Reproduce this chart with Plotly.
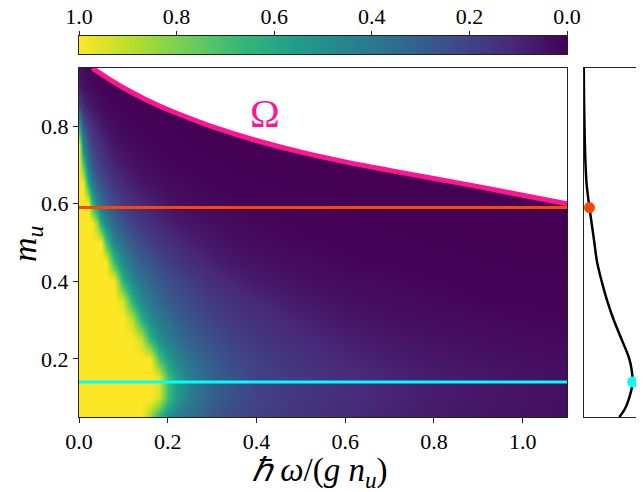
import numpy as np
import plotly.graph_objects as go

# ---------------- data ----------------
# frequency grid (columns) and m_u grid (rows) of the colour map
freq = [0, 0.01, 0.02, 0.03, 0.04, 0.05, 0.06, 0.08, 0.10, 0.12, 0.14, 0.16, 0.18,
        0.20, 0.22, 0.25, 0.30, 0.35, 0.40, 0.50, 0.60, 0.70, 0.80, 0.90, 1.00, 1.10]
m_rows = [0.05, 0.10, 0.15, 0.20, 0.25, 0.30, 0.35, 0.40, 0.45, 0.50,
          0.55, 0.60, 0.65, 0.70, 0.75, 0.80, 0.85, 0.90, 0.95]

z_vals = [
    [1.0]*11 + [0.85, 0.64, 0.50, 0.43, 0.36, 0.27, 0.22, 0.19, 0.15, 0.12, 0.095, 0.07, 0.058, 0.046, 0.038],
    [1.0]*12 + [0.93, 0.68, 0.53, 0.42, 0.30, 0.245, 0.20, 0.158, 0.128, 0.10, 0.076, 0.061, 0.049, 0.039],
    [1.0]*12 + [0.97, 0.70, 0.55, 0.43, 0.31, 0.25, 0.20, 0.16, 0.13, 0.10, 0.077, 0.062, 0.05, 0.04],
    [1.0]*12 + [0.71, 0.55, 0.46, 0.37, 0.28, 0.22, 0.19, 0.14, 0.11, 0.08, 0.061, 0.047, 0.037, 0.032],
    [1.0]*10 + [0.92, 0.66, 0.50, 0.43, 0.37, 0.30, 0.24, 0.19, 0.16, 0.12, 0.084, 0.06, 0.044, 0.035, 0.028, 0.022],
    [1.0]*9 + [0.91, 0.65, 0.49, 0.41, 0.36, 0.30, 0.26, 0.20, 0.16, 0.14, 0.094, 0.06, 0.041, 0.033, 0.025, 0.017, 0.012],
    [1.0]*8 + [0.94, 0.64, 0.48, 0.40, 0.34, 0.29, 0.26, 0.22, 0.17, 0.14, 0.11, 0.065, 0.041, 0.031, 0.022, 0.012, 0.01, 0.009],
    [1.0]*8 + [0.64, 0.47, 0.38, 0.32, 0.28, 0.24, 0.21, 0.18, 0.13, 0.10, 0.07, 0.04, 0.03, 0.02, 0.011, 0.009, 0.007, 0.005],
    [1.0]*7 + [0.67, 0.47, 0.37, 0.30, 0.26, 0.22, 0.19, 0.16, 0.13, 0.09, 0.06, 0.045, 0.03, 0.014, 0.01, 0.0075, 0.005, 0.003, 0.002],
    [1.0]*6 + [0.71, 0.46, 0.35, 0.28, 0.23, 0.19, 0.16, 0.14, 0.12, 0.09, 0.06, 0.04, 0.03, 0.014, 0.01, 0.007, 0.004, 0.002, 0.0, 0.0],
    [1.0]*4 + [0.84, 0.59, 0.46, 0.32, 0.25, 0.20, 0.16, 0.14, 0.11, 0.09, 0.07, 0.056, 0.036, 0.027, 0.017, 0.01, 0.006, 0.003, 0.0, 0.0, 0.0, 0.0],
    [1.0]*3 + [0.67, 0.47, 0.37, 0.30, 0.23, 0.17, 0.14, 0.11, 0.09, 0.07, 0.05, 0.04, 0.034, 0.022, 0.012, 0.01, 0.006, 0.002, 0.0, 0.0, 0.0, 0.0, 0.0],
    [1.0]*2 + [0.63, 0.41, 0.31, 0.25, 0.21, 0.15, 0.12, 0.085, 0.06, 0.05, 0.04, 0.03, 0.025, 0.017, 0.01, 0.008, 0.006, 0.002, 0.0, 0.0, 0.0, 0.0, 0.0, 0.0],
    [1.0, 0.73, 0.40, 0.28, 0.21, 0.17, 0.15, 0.10, 0.07, 0.05, 0.037, 0.03, 0.022, 0.015, 0.011, 0.0095, 0.006, 0.003, 0.0] + [0.0]*7,
    [1.0, 0.47, 0.28, 0.20, 0.16, 0.13, 0.10, 0.06, 0.04, 0.03, 0.02, 0.012, 0.01, 0.009, 0.007, 0.005, 0.001] + [0.0]*9,
    [0.60, 0.27, 0.18, 0.13, 0.10, 0.07, 0.05, 0.03, 0.02, 0.012, 0.01, 0.008, 0.007, 0.005, 0.004, 0.002] + [0.0]*10,
    [0.22, 0.12, 0.08, 0.06, 0.04, 0.03, 0.02, 0.012, 0.008, 0.006, 0.004, 0.003, 0.002] + [0.0]*13,
    [0.08, 0.05, 0.035, 0.025, 0.018, 0.012, 0.008, 0.005, 0.003, 0.002] + [0.0]*16,
    [0.04, 0.025, 0.015, 0.01, 0.006, 0.004, 0.003, 0.002] + [0.0]*18,
]

# Omega boundary curve
omega_x = [0.03, 0.06, 0.10, 0.15, 0.20, 0.25, 0.30, 0.40, 0.50, 0.60, 0.70, 0.80, 0.90, 1.00, 1.10]
omega_m = [0.950, 0.927, 0.899, 0.869, 0.843, 0.820, 0.799, 0.763, 0.733, 0.708, 0.686, 0.665, 0.644, 0.622, 0.600]

# two highlighted m_u values
m_orange = 0.59
m_cyan = 0.14

# side-panel profile (arbitrary units)
prof_m = [0.05, 0.07, 0.10, 0.14, 0.17, 0.20, 0.25, 0.30, 0.35, 0.40, 0.45, 0.50, 0.55, 0.59,
          0.65, 0.70, 0.75, 0.80, 0.85, 0.90, 0.95]
prof_v = [0.66, 0.76, 0.845, 0.907, 0.89, 0.845, 0.704, 0.558, 0.436, 0.335, 0.25, 0.20, 0.15, 0.11,
          0.058, 0.038, 0.026, 0.018, 0.012, 0.008, 0.005]
dot_orange_v = 0.11
dot_cyan_v = 0.907

cbar_ticks = [0.0, 0.2, 0.4, 0.6, 0.8, 1.0]
x_ticks = [0.0, 0.2, 0.4, 0.6, 0.8, 1.0]
y_ticks = [0.2, 0.4, 0.6, 0.8]

# ---------------- styling ----------------
PAGE_W, PAGE_H = 644, 492
OFF = 8                       # default page margin around the plot div
W, H = PAGE_W - OFF, PAGE_H - OFF
FONT = "Liberation Serif"
PINK = "#FF1493"
ORANGE = "#FF4500"
CYAN = "#00FFFF"
AX = "#222222"

def px_x(a, b):
    return [(a - OFF) / W, (b - OFF) / W]

def px_y(top, bottom):
    return [(PAGE_H - bottom) / H, (PAGE_H - top) / H]

def pp_x(a):
    return (a - OFF) / W

def pp_y(a):
    return (PAGE_H - a) / H

main_x = px_x(79, 567)
main_y = px_y(68, 417)
side_x = px_x(583.5, 637.7)
cb_y = px_y(36, 54)

fig = go.Figure()

fig.add_trace(go.Heatmap(x=freq, y=m_rows, z=z_vals, colorscale="Viridis", zmin=0, zmax=1,
                         zsmooth="best", showscale=False, hoverinfo="skip",
                         xaxis="x", yaxis="y"))

# white region above Omega
fig.add_trace(go.Scatter(x=omega_x + [1.3, 1.3, omega_x[0] - 0.005],
                         y=omega_m + [omega_m[-1], 1.1, 1.1],
                         fill="toself", fillcolor="white", mode="none",
                         hoverinfo="skip", showlegend=False, xaxis="x", yaxis="y"))

fig.add_trace(go.Scatter(x=omega_x, y=omega_m, mode="lines",
                         line=dict(color=PINK, width=5, shape="spline"), showlegend=False,
                         xaxis="x", yaxis="y"))

fig.add_trace(go.Scatter(x=[0, 1.1], y=[m_orange, m_orange], mode="lines",
                         line=dict(color=ORANGE, width=3), showlegend=False,
                         xaxis="x", yaxis="y"))
fig.add_trace(go.Scatter(x=[0, 1.1], y=[m_cyan, m_cyan], mode="lines",
                         line=dict(color=CYAN, width=3), showlegend=False,
                         xaxis="x", yaxis="y"))

# side panel
fig.add_trace(go.Scatter(x=prof_v, y=prof_m, mode="lines", line=dict(color="black", width=2.5, shape="spline"),
                         showlegend=False, xaxis="x2", yaxis="y2"))
fig.add_trace(go.Scatter(x=[dot_orange_v], y=[m_orange], mode="markers",
                         marker=dict(color=ORANGE, size=11), cliponaxis=False,
                         showlegend=False, xaxis="x2", yaxis="y2"))
fig.add_trace(go.Scatter(x=[dot_cyan_v], y=[m_cyan], mode="markers",
                         marker=dict(color=CYAN, size=11), cliponaxis=False,
                         showlegend=False, xaxis="x2", yaxis="y2"))

# colour bar drawn as its own strip
levels = np.linspace(0, 1, 256)
fig.add_trace(go.Heatmap(x=levels, y=[0.5], z=[levels], colorscale="Viridis", zmin=0, zmax=1,
                         showscale=False, hoverinfo="skip", xaxis="x3", yaxis="y3"))

tickfont = dict(family=FONT, size=22, color="black")
common = dict(showgrid=False, zeroline=False, showline=True, linecolor=AX, linewidth=1,
              mirror=True, automargin=False)

fig.update_layout(
    width=W, height=H,
    margin=dict(l=0, r=0, t=0, b=0),
    paper_bgcolor="white", plot_bgcolor="white",
    showlegend=False,
    xaxis=dict(domain=main_x, range=[0, 1.1], anchor="y", tickvals=x_ticks, tickformat=".1f",
               ticks="outside", ticklen=5, tickcolor=AX, tickfont=tickfont, **common),
    yaxis=dict(domain=main_y, range=[0.05, 0.95], anchor="x", tickvals=y_ticks, tickformat=".1f",
               ticks="outside", ticklen=5, tickcolor=AX, tickfont=tickfont, **common),
    xaxis2=dict(domain=side_x, range=[0, 1], anchor="y2", showticklabels=False, ticks="", **common),
    yaxis2=dict(domain=main_y, range=[0.05, 0.95], anchor="x2", showticklabels=False, ticks="", **common),
    xaxis3=dict(domain=main_x, range=[1, 0], anchor="y3", side="top", tickvals=cbar_ticks,
                tickformat=".1f", ticks="outside", ticklen=4, tickcolor=AX, tickfont=tickfont,
                ticklabelstandoff=-2, **common),
    yaxis3=dict(domain=cb_y, range=[0, 1], anchor="x3", showticklabels=False, ticks="", **common),
    annotations=[
        dict(x=0.42, y=0.833, xref="x", yref="y", text="Ω", showarrow=False,
             xanchor="center", yanchor="middle",
             font=dict(family=FONT, size=40, color=PINK)),
        dict(x=pp_x(320), y=pp_y(472), xref="paper", yref="paper",
             xanchor="center", yanchor="middle",
             text="<i>ℏ ω</i>/(<i>g n</i><sub><i>u</i></sub>)", showarrow=False,
             font=dict(family=FONT, size=33, color="black")),
        dict(x=pp_x(27), y=pp_y(244), xref="paper", yref="paper", textangle=-90,
             xanchor="center", yanchor="middle",
             text="<i>m</i><sub><i>u</i></sub>", showarrow=False,
             font=dict(family=FONT, size=34, color="black")),
    ],
)

fig.write_html("out.html")
